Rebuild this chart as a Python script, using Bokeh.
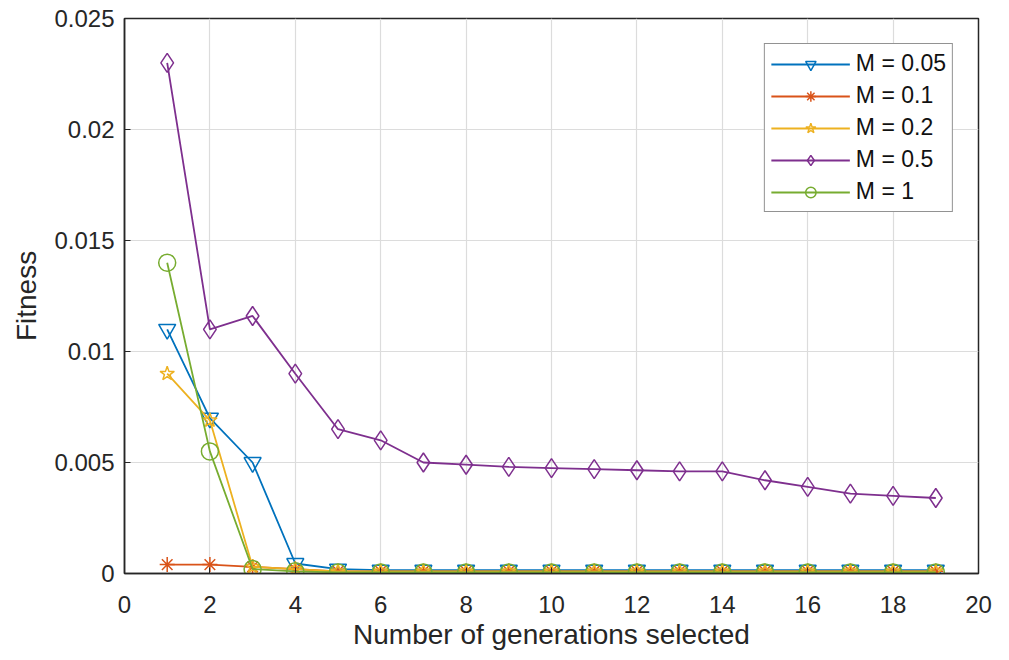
from bokeh.plotting import figure
from bokeh.models import Legend, LegendItem, FixedTicker
from bokeh.embed import file_html
from bokeh.resources import INLINE

generations = list(range(1, 20))
m005 = [0.011, 0.007, 0.005, 0.00045, 0.0002, 0.00015, 0.00015, 0.00015, 0.00015, 0.00015,
        0.00015, 0.00015, 0.00015, 0.00015, 0.00015, 0.00015, 0.00015, 0.00015, 0.00015]
m01 = [0.0004, 0.0004, 0.0003, 0.0002, 0.0001, 0.0001, 0.0001, 0.0001, 0.0001, 0.0001,
       0.0001, 0.0001, 0.0001, 0.0001, 0.0001, 0.0001, 0.0001, 0.0001, 0.0001]
m02 = [0.009, 0.0069, 0.0003, 0.0002, 0.0001, 0.0001, 0.0001, 0.0001, 0.0001, 0.0001,
       0.0001, 0.0001, 0.0001, 0.0001, 0.0001, 0.0001, 0.0001, 0.0001, 0.0001]
m05 = [0.023, 0.011, 0.0116, 0.009, 0.0065, 0.006, 0.005, 0.0049, 0.0048, 0.00475,
       0.0047, 0.00465, 0.0046, 0.0046, 0.0042, 0.0039, 0.0036, 0.0035, 0.0034]
m1 = [0.014, 0.0055, 0.0002, 0.0001, 0.00005, 0.00005, 0.00005, 0.00005, 0.00005, 0.00005,
      0.00005, 0.00005, 0.00005, 0.00005, 0.00005, 0.00005, 0.00005, 0.00005, 0.00005]

labels = ["M = 0.05", "M = 0.1", "M = 0.2", "M = 0.5", "M = 1"]
x_ticks = list(range(0, 21, 2))
y_ticks = [0, 0.005, 0.01, 0.015, 0.02, 0.025]

series = [m005, m01, m02, m05, m1]
colors = ["#0072BD", "#D95319", "#EDB120", "#7E2F8E", "#77AC30"]
markers = ["inverted_triangle", "asterisk", "star", "diamond", "circle"]
sizes = [17, 15, 15, 19, 17]

p = figure(width=1009, height=660, x_range=(0, 20), y_range=(0, 0.025),
           output_backend="svg", toolbar_location=None,
           min_border_left=124, min_border_right=31, min_border_top=18, min_border_bottom=87)
p.background_fill_color = "white"
p.border_fill_color = "white"
p.outline_line_color = "#262626"
p.outline_line_width = 1.5

items = []
for ys, c, mk, sz, lab in zip(series, colors, markers, sizes, labels):
    r1 = p.line(generations, ys, line_color=c, line_width=1.8)
    r2 = p.scatter(generations, ys, marker=mk, size=sz, line_color=c, fill_color=None, line_width=1.5)
    items.append(LegendItem(label=lab, renderers=[r1, r2]))

xax = p.below[0]
yax = p.left[0]
for ax in (xax, yax):
    ax.major_tick_in = 6
    ax.major_tick_out = 0
    ax.minor_tick_in = 0
    ax.minor_tick_out = 0
    ax.axis_line_color = "#262626"
    ax.axis_line_width = 1.5
    ax.major_tick_line_color = "#262626"
    ax.major_label_text_font = "Liberation Sans"
    ax.major_label_text_font_size = "24px"
    ax.major_label_text_color = "#262626"
    ax.axis_label_text_font = "Liberation Sans"
    ax.axis_label_text_font_size = "28px"
    ax.axis_label_text_font_style = "normal"
    ax.axis_label_text_color = "#262626"

xax.ticker = FixedTicker(ticks=x_ticks)
yax.ticker = FixedTicker(ticks=y_ticks)
yax.major_label_overrides = {0: "0", 0.005: "0.005", 0.01: "0.01", 0.015: "0.015", 0.02: "0.02", 0.025: "0.025"}
xax.axis_label = "Number of generations selected"
yax.axis_label = "Fitness"
xax.major_label_standoff = 22
yax.major_label_standoff = 10
xax.axis_label_standoff = 3
yax.axis_label_standoff = 9

p.xgrid.grid_line_color = "#DCDCDC"
p.ygrid.grid_line_color = "#DCDCDC"
p.xgrid.grid_line_width = 1.2
p.ygrid.grid_line_width = 1.2

legend = Legend(items=items, location="top_right")
legend.margin = 25
legend.glyph_width = 79
legend.glyph_height = 26
legend.label_height = 26
legend.label_text_font = "Liberation Sans"
legend.label_text_font_size = "23px"
legend.label_text_color = "#111111"
legend.spacing = 5
legend.padding = 6
legend.label_standoff = 6
legend.border_line_color = "#262626"
legend.border_line_width = 1.5
legend.background_fill_color = "white"
legend.background_fill_alpha = 1
p.add_layout(legend)

open("out.html", "w").write(file_html(p, INLINE))
